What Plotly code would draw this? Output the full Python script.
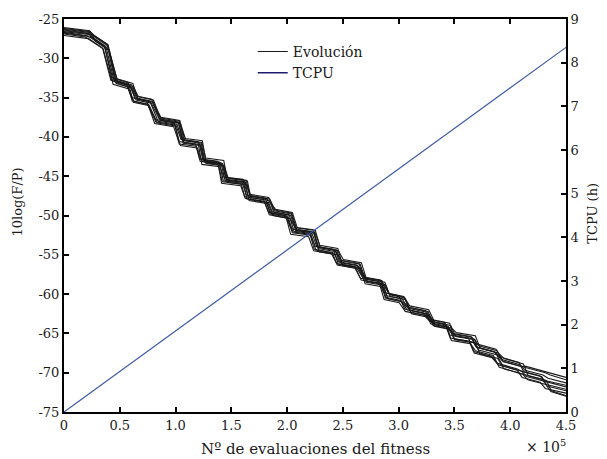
import plotly.graph_objects as go

# Base staircase plateaus: (x start, x end, level start, level end)
plateau_x_start = [0, 25000, 45000, 63600, 84300, 105800, 124600, 144300, 164900, 186500, 206200,
                   226800, 247400, 268900, 289500, 308400, 329900, 348700, 370200, 391700, 413200, 433900]
plateau_x_end = [21500, 37600, 59200, 77100, 101300, 121000, 140700, 161400, 182000, 201700, 222300,
                 242900, 263500, 285100, 303000, 325400, 344200, 365700, 386300, 408800, 429400, 450000]
plateau_y_start = [-26.6, -27.4, -32.9, -35.2, -37.9, -40.6, -43.1, -45.5, -47.7, -49.6, -51.9,
                   -54.2, -56.0, -58.2, -60.3, -62.0, -63.7, -65.4, -67.0, -68.7, -70.0, -71.2]
plateau_y_end = [-27.0, -28.6, -33.5, -35.6, -38.3, -40.9, -43.4, -45.8, -48.1, -50.0, -52.2,
                 -54.6, -56.4, -58.6, -60.7, -62.5, -64.1, -65.8, -67.6, -69.4, -70.6, -71.8]

# Per-run deviations (dB) of each plateau, and per-run shift of the step positions
run_offsets = [
    [0.2, 0.1, 0.0, 0.1, -0.1, 0.2, 0.1, 0.0, 0.2, 0.1, -0.1, 0.2, 0.0, 0.3, 0.1, 0.2, 0.0, 0.3, 0.2, 0.4, 0.3, 0.5],
    [-0.3, -0.2, 0.2, -0.2, 0.1, -0.3, 0.0, -0.2, -0.1, -0.3, 0.2, -0.1, -0.3, 0.0, -0.4, -0.2, 0.3, -0.2, -0.5, -0.3, -0.6, -0.8],
    [0.4, 0.3, -0.3, 0.0, 0.3, 0.1, -0.2, 0.3, 0.0, 0.2, 0.0, -0.4, 0.2, -0.3, 0.3, -0.1, -0.4, 0.1, 0.4, 0.1, 0.6, 0.9],
    [-0.1, 0.2, 0.4, -0.4, -0.3, -0.5, 0.2, -0.1, 0.3, -0.2, -0.3, 0.3, -0.2, 0.4, -0.2, 0.4, 0.2, -0.5, -0.2, -0.6, -0.2, -0.3],
    [0.1, -0.4, -0.1, 0.3, 0.0, 0.4, -0.3, 0.2, -0.3, 0.4, 0.3, 0.1, 0.4, -0.2, 0.0, -0.5, -0.2, 0.5, 0.1, 0.5, -0.4, -1.1],
    [-0.5, -0.1, 0.1, 0.2, -0.4, 0.0, 0.3, -0.4, 0.1, 0.0, -0.5, -0.3, -0.1, 0.2, 0.5, 0.1, 0.5, 0.2, -0.3, -0.1, 0.2, 0.2],
    [0.3, 0.4, -0.2, -0.1, 0.2, -0.2, -0.1, 0.1, -0.4, -0.4, 0.4, 0.0, 0.3, -0.5, -0.3, 0.3, -0.3, -0.3, 0.6, 0.2, 0.8, 1.2],
    [0.0, -0.3, 0.3, 0.1, 0.4, 0.2, 0.4, -0.3, 0.2, 0.3, 0.1, 0.4, -0.4, 0.1, 0.2, -0.3, 0.1, 0.0, -0.6, -0.8, -0.9, -1.2],
    [-0.2, 0.0, -0.4, -0.3, -0.2, 0.3, -0.4, 0.4, -0.2, -0.1, -0.2, -0.2, 0.1, 0.3, -0.1, 0.0, -0.1, 0.4, 0.3, 0.7, 0.1, -0.5],
    [0.5, 0.2, 0.1, 0.4, 0.1, -0.1, 0.0, 0.0, 0.4, 0.0, 0.0, 0.2, -0.2, -0.1, 0.4, 0.5, 0.4, -0.4, -0.1, -0.4, -0.5, 0.0],
]
run_shifts = [0, -2500, 2000, -1500, 3000, -3000, 1000, 2500, -1000, 1500]

# TCPU (hours) vs evaluations
tcpu_x = [0, 450000]
tcpu_y = [0, 8.35]

x_tickvals = [0, 50000, 100000, 150000, 200000, 250000, 300000, 350000, 400000, 450000]
x_ticktext = ["0", "0.5", "1.0", "1.5", "2.0", "2.5", "3.0", "3.5", "4.0", "4.5"]
y_tickvals = [-25, -30, -35, -40, -45, -50, -55, -60, -65, -70, -75]
y_ticktext = ["-25", "-30", "-35", "-40", "-45", "-50", "-55", "-60", "-65", "-70", "-75"]
y2_tickvals = [0, 1, 2, 3, 4, 5, 6, 7, 8, 9]

FONT = "DejaVu Serif"
TXT = "#1a1a1a"

fig = go.Figure()

n = len(plateau_x_start)
for r, (offs, sh) in enumerate(zip(run_offsets, run_shifts)):
    xs, ys = [], []
    for i in range(n):
        x0 = plateau_x_start[i] + (sh if i > 0 else 0)
        x1 = plateau_x_end[i] + (sh if i < n - 1 else 0)
        xs += [x0, x1]
        ys += [plateau_y_start[i] + offs[i], plateau_y_end[i] + offs[i]]
    fig.add_trace(go.Scatter(
        x=xs, y=ys, mode="lines",
        line=dict(color="#1a1a1a", width=1.1),
        name="Evolución", showlegend=(r == 0), legendgroup="evo",
        hoverinfo="skip",
    ))

fig.add_trace(go.Scatter(
    x=tcpu_x, y=tcpu_y, mode="lines", yaxis="y2",
    line=dict(color="#3d5aa8", width=1.2),
    name="TCPU", showlegend=False,
))
# legend entry drawn in the darker navy seen in the legend
fig.add_trace(go.Scatter(
    x=[None], y=[None], mode="lines", yaxis="y2",
    line=dict(color="#201a6e", width=1.6),
    name="TCPU", showlegend=True,
))

axis_common = dict(
    showgrid=False, zeroline=False, showline=True, linecolor="black", linewidth=2,
    ticks="inside", ticklen=5, tickwidth=2, tickcolor="black", automargin=False,
    tickfont=dict(family=FONT, size=13, color=TXT),
)

# The page body adds an 8 px offset at top-left, so the figure is 8 px smaller.
fig.update_layout(
    width=599, height=451,
    margin=dict(l=56, r=41, t=11, b=47),
    plot_bgcolor="white", paper_bgcolor="white",
    font=dict(family=FONT, size=14, color=TXT),
    xaxis=dict(
        **axis_common, range=[0, 450000], mirror="ticks",
        tickvals=x_tickvals, ticktext=x_ticktext,
    ),
    yaxis=dict(
        **axis_common, range=[-75, -25], tickvals=y_tickvals, ticktext=y_ticktext,
    ),
    yaxis2=dict(
        **axis_common, range=[0, 9], tickvals=y2_tickvals, overlaying="y", side="right",
    ),
    legend=dict(
        x=0.376, y=0.957, xanchor="left", yanchor="top",
        bgcolor="rgba(0,0,0,0)", borderwidth=0,
        font=dict(family=FONT, size=14, color=TXT),
        tracegroupgap=0, itemwidth=30,
    ),
    showlegend=True,
)

# axis titles placed as in the reference
fig.add_annotation(
    xref="paper", yref="paper", x=0.5, y=-0.066, xanchor="center", yanchor="top",
    text="Nº de evaluaciones del fitness", showarrow=False,
    font=dict(family=FONT, size=15, color=TXT),
)
fig.add_annotation(
    xref="paper", yref="paper", x=-0.092, y=0.535, xanchor="center", yanchor="middle",
    text="10log(F/P)", textangle=-90, showarrow=False,
    font=dict(family=FONT, size=13, color=TXT),
)
fig.add_annotation(
    xref="paper", yref="paper", x=1.052, y=0.505, xanchor="center", yanchor="middle",
    text="TCPU (h)", textangle=-90, showarrow=False,
    font=dict(family=FONT, size=13, color=TXT),
)
fig.add_annotation(
    xref="paper", yref="paper", x=1.004, y=-0.058, xanchor="right", yanchor="top",
    text="× 10<sup>5</sup>", showarrow=False, font=dict(family=FONT, size=14, color=TXT),
)

fig.write_html("out.html")
